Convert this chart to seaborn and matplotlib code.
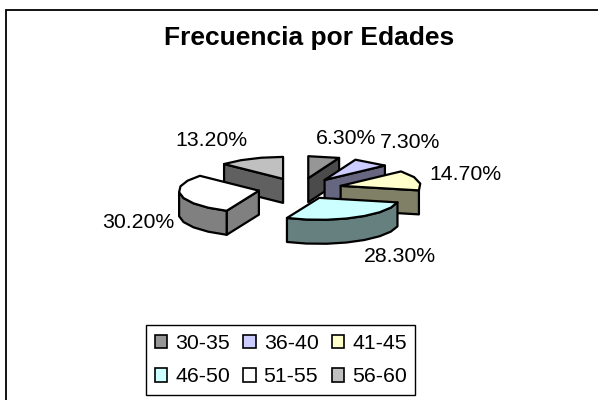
import numpy as np
import matplotlib
matplotlib.use("Agg")
import matplotlib.pyplot as plt
from matplotlib.patches import Patch, Polygon
import seaborn as sns

# data
age_groups = ["30-35", "36-40", "41-45", "46-50", "51-55", "56-60"]
shares = [6.3, 7.3, 14.7, 28.3, 30.2, 13.2]
top_colors = ["#969696", "#CCCCFF", "#FFFFCC", "#CCFFFF", "#FFFFFF", "#C0C0C0"]
title = "Frecuencia por Edades"

# layout, in pixels of the 598x400 picture
cx, cy = 300, 188.5
rx, ry = 80, 22
depth = 24
explode_x, explode_y = 42, 10.5
label_xy = [(346, 138), (410, 143), (465, 174), (400, 257), (138, 223), (211, 140)]
draw_order = [5, 0, 1, 2, 4, 3]

sns.set_theme(style="white")
plt.rcParams["font.family"] = ["Liberation Sans", "DejaVu Sans"]

fig = plt.figure(figsize=(5.98, 4.0), dpi=100)
ax = fig.add_axes([0, 0, 1, 1])
ax.set_xlim(0, 598)
ax.set_ylim(400, 0)
ax.axis("off")

# chart frame, the picture cuts it off on the right and at the bottom
ax.plot([5.5, 5.5, 598], [400, 9.5, 9.5], color="black", lw=1.3, solid_joinstyle="miter")

total = sum(shares)
edges = np.concatenate([[0], np.cumsum(shares)]) / total * 2 * np.pi
side_colors = [tuple(c * 0.5 for c in matplotlib.colors.to_rgb(col)) for col in top_colors]


def slice_face(i):
    start, end = edges[i], edges[i + 1]
    mid = (start + end) / 2
    ax0 = cx + explode_x * np.sin(mid)
    ay0 = cy - explode_y * np.cos(mid)
    # coarse arc steps, the original outline is faceted
    n = max(2, int((end - start) / np.radians(14)) + 1)
    t = np.linspace(start, end, n)
    return ax0, ay0, t


for i in draw_order:
    ax0, ay0, t = slice_face(i)
    ex = ax0 + rx * np.sin(t)
    ey = ay0 - ry * np.cos(t)
    kw = dict(ec="black", lw=1.6, joinstyle="round", fc=side_colors[i])

    # radial walls facing the viewer
    if np.sin(t[0]) < 0:
        ax.add_patch(Polygon([(ax0, ay0), (ex[0], ey[0]), (ex[0], ey[0] + depth), (ax0, ay0 + depth)], **kw))
    if np.sin(t[-1]) > 0:
        ax.add_patch(Polygon([(ax0, ay0), (ex[-1], ey[-1]), (ex[-1], ey[-1] + depth), (ax0, ay0 + depth)], **kw))

    # outer wall, front half only
    front = np.cos(t) <= 0
    if front.sum() >= 2:
        upper = np.column_stack([ex[front], ey[front]])
        lower = upper[::-1] + [0, depth]
        ax.add_patch(Polygon(np.vstack([upper, lower]), **kw))

    # top face
    top = np.vstack([[ax0, ay0], np.column_stack([ex, ey])])
    ax.add_patch(Polygon(top, ec="black", lw=1.6, joinstyle="round", fc=top_colors[i]))

for share, (lx, ly) in zip(shares, label_xy):
    ax.text(lx, ly, f"{share:.2f}%", ha="center", va="center", fontsize=15.3, color="black")

ax.text(309, 38, title, ha="center", va="center", fontsize=19, fontweight="bold", color="black")

handles = [Patch(fc=c, ec="black", lw=1.2) for c in top_colors]
# column-first filling in matplotlib, so reorder to fill row by row
order = [0, 3, 1, 4, 2, 5]
leg = ax.legend([handles[k] for k in order], [age_groups[k] for k in order], ncol=3,
                loc="lower left", bbox_to_anchor=(146 / 598, 1 - 395 / 400),
                fontsize=15.3, labelcolor="black", frameon=True, fancybox=False, edgecolor="black",
                framealpha=1, handlelength=0.6, handleheight=0.6, handletextpad=0.37,
                columnspacing=0.62, labelspacing=0.69, borderpad=0.4, borderaxespad=0)
leg.get_frame().set_linewidth(1)

fig.savefig("out.png", dpi=100)
